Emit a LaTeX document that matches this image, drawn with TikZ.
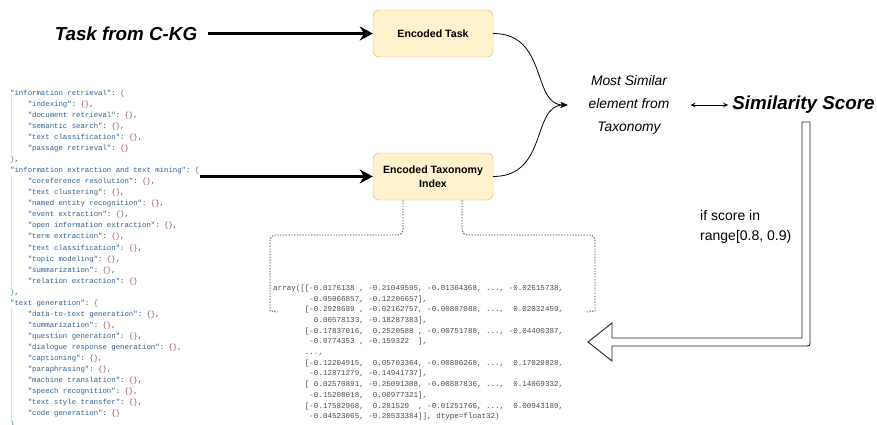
\documentclass[tikz,border=0pt]{standalone}
\usepackage{fontspec}
\setmainfont{Liberation Sans}
\setmonofont{Liberation Mono}
\usetikzlibrary{arrows.meta,positioning}
\definecolor{encfill}{HTML}{FFF2CC}
\definecolor{encline}{HTML}{D6B656}
\definecolor{jkey}{RGB}{46,95,145}
\definecolor{jbrace}{RGB}{150,70,100}
\definecolor{jouter}{RGB}{60,140,90}
\definecolor{jpunct}{RGB}{70,70,70}
\definecolor{arrgray}{RGB}{75,75,75}
\definecolor{guide}{RGB}{222,222,222}
\def\Score{Similarity Score}
\newcommand{\jk}[1]{\textcolor{jkey}{"#1"}:~}
\newcommand{\je}{\textcolor{jbrace}{\{\}}}
\newcommand{\jo}[1]{\textcolor{jouter}{#1}}
\newcommand{\ind}{~~~~}

\begin{document}
\begin{tikzpicture}[% 1 unit = 1px of the reference, y grows downwards
				x=1pt, y=-1pt,
				every node/.style={
					align=center,  		% so that "\\" breaks lines
					inner sep=0pt
				},
				every edge/.style={draw},
				box/.style={rectangle, rounded corners=6pt, draw=encline, fill=encfill,
					minimum width=120pt, minimum height=47pt,
					font=\fontsize{10.6}{14}\selectfont\bfseries},
				big/.style={font=\fontsize{18.8}{22}\selectfont\bfseries\itshape},
				json/.style={align=left, text=jpunct, font=\fontsize{7.33}{11.03}\selectfont\ttfamily},
				arr/.style={align=left, text=arrgray, font=\fontsize{7.55}{10.7}\selectfont\ttfamily},
				fat/.style={line width=3.5pt, -{Stealth[length=13pt,width=14pt]}},
				thin/.style={line width=0.8pt, -{Stealth[length=7pt,width=6pt]}},
				brace/.style={draw=black!75, line width=0.8pt, dash pattern=on 1.4pt off 1.4pt},
				hollow/.style={draw=black!85, line width=0.9pt, fill=white}
			]
			\useasboundingbox (0,0) rectangle (877,425);
			\node[big, inner xsep=11pt](T1) at (126,33.5){Task from C-KG};
			\node[box](E1) at (433,33.5){Encoded Task};
			\node[box](E2) at (433,176.5){Encoded Taxonomy\\Index};
			\node[font=\fontsize{13.8}{23}\selectfont\itshape, inner xsep=21pt](M1) at (629,105){Most Similar\\element from\\Taxonomy};
			\node[big, inner xsep=4pt, inner ysep=5pt](S1) at (803.5,105){\Score};
			\node[align=left, anchor=west, font=\fontsize{14}{20}\selectfont](C1) at (700,227){if score in\\range[0.8, 0.9)};
			% taxonomy as json (base = baseline of the last line)
			\node[json, anchor=base west](J1) at (10,426.5){%
\jk{information retrieval}\jo{\{}\\
\ind\jk{indexing}\je,\\
\ind\jk{document retrieval}\je,\\
\ind\jk{semantic search}\je,\\
\ind\jk{text classification}\je,\\
\ind\jk{passage retrieval}\je\\
\jo{\}},\\
\jk{information extraction and text mining}\jo{\{}\\
\ind\jk{coreference resolution}\je,\\
\ind\jk{text clustering}\je,\\
\ind\jk{named entity recognition}\je,\\
\ind\jk{event extraction}\je,\\
\ind\jk{open information extraction}\je,\\
\ind\jk{term extraction}\je,\\
\ind\jk{text classification}\je,\\
\ind\jk{topic modeling}\je,\\
\ind\jk{summarization}\je,\\
\ind\jk{relation extraction}\je\\
\jo{\}},\\
\jk{text generation}\jo{\{}\\
\ind\jk{data-to-text generation}\je,\\
\ind\jk{summarization}\je,\\
\ind\jk{question generation}\je,\\
\ind\jk{dialogue response generation}\je,\\
\ind\jk{captioning}\je,\\
\ind\jk{paraphrasing}\je,\\
\ind\jk{machine translation}\je,\\
\ind\jk{speech recognition}\je,\\
\ind\jk{text style transfer}\je,\\
\ind\jk{code generation}\je\\
\jo{\}}};
			\draw[guide] (11,98.5) -- (11,153.7);
			\draw[guide] (11,175.7) -- (11,286);
			\draw[guide] (11,308) -- (11,418.5);
			% encoded index
			\node[arr, anchor=base west](A1) at (273,418.7){%
array([[-0.0176138 , -0.21049595, -0.01364368, ..., -0.02615738,\\
~~~~~~~~-0.05066857, -0.12206657],\\
~~~~~~~[-0.2928689 , -0.02162757, -0.00807088, ...,~ 0.02032459,\\
~~~~~~~~~0.00578133, -0.18287383],\\
~~~~~~~[-0.17837016,~ 0.2520588 , -0.00751788, ..., -0.04400387,\\
~~~~~~~~-0.0774353 , -0.159322~ ],\\
~~~~~~~...,\\
~~~~~~~[-0.12204915,~ 0.05703364, -0.00886268, ...,~ 0.17029828,\\
~~~~~~~~-0.12871279, -0.14941737],\\
~~~~~~~[~0.02570891, -0.25091308, -0.00887836, ...,~ 0.14069332,\\
~~~~~~~~-0.15208018,~ 0.00977321],\\
~~~~~~~[-0.17582968,~ 0.281529~ , -0.01251766, ...,~ 0.00943189,\\
~~~~~~~~-0.04523065, -0.20533384]], dtype=float32)};
			\path[fat]
			(T1)edge []	node [] {} (E1)
			(J1.east |- E2.west)edge []	node [] {} (E2.west)
			;
			\path[line width=0.8pt, {Stealth[length=5pt,width=4.5pt]}-{Stealth[length=5pt,width=4.5pt]}]
			(M1)edge []	node [] {} (S1)
			;
			\draw[thin] (E1.east) .. controls ([xshift=55pt]E1.east) and ([xshift=-36pt]M1.west) .. (M1.west);
			\draw[thin] (E2.east) .. controls ([xshift=55pt]E2.east) and ([xshift=-36pt]M1.west) .. (M1.west);
			% dotted bracket below the index box
			\draw[brace, rounded corners=5pt] ([xshift=-30pt]E2.south) |- (270,235) -- (270,306) .. controls (270,310) and (273,312) .. (278,312);
			\draw[brace, rounded corners=5pt] ([xshift=29pt]E2.south) |- (595,235) -- (595,306) .. controls (595,310) and (592,312) .. (587,312);
			% hollow arrow back to the index
			\draw[hollow] (802,122) -- (810,122) -- (810,341) .. controls (810,346) .. (805,346) -- (612,346) -- (612,361) -- (588,342) -- (612,323) -- (612,338) -- (802,338) -- cycle;
		\end{tikzpicture}
\end{document}
